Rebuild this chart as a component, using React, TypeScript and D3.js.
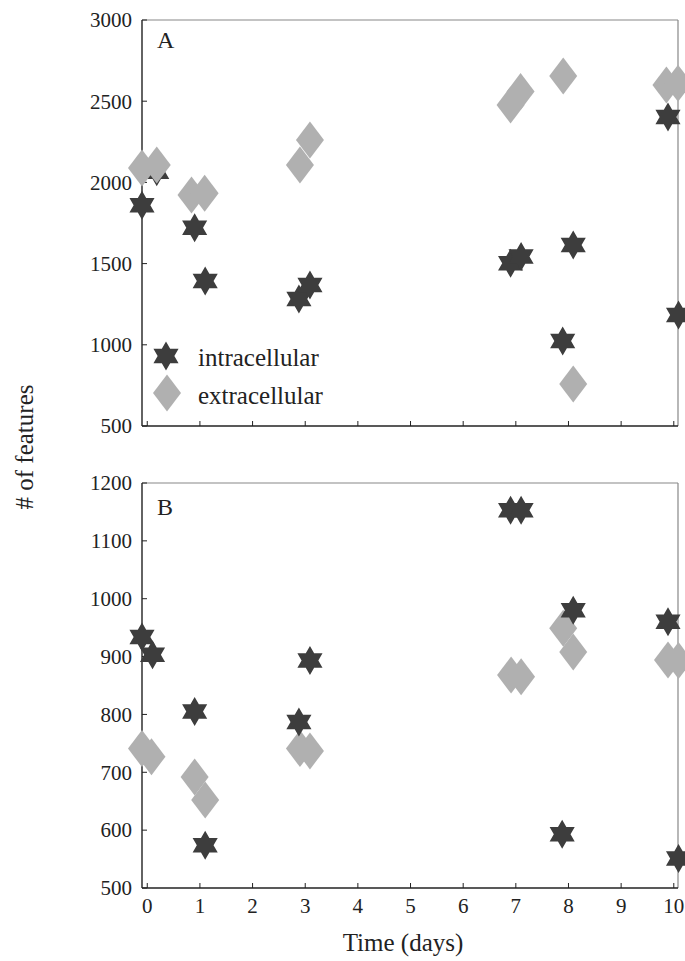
import React, { useRef, useEffect } from 'react';
import * as d3 from 'd3';

// panel A (top)
const intraA_days = [-0.1, 0.18, 0.9, 1.1, 2.88, 3.09, 6.9, 7.1, 7.89, 8.09, 9.89, 10.09];
const intraA_vals = [1860, 2065, 1720, 1393, 1282, 1368, 1502, 1543, 1023, 1615, 2403, 1183];
const extraA_days = [-0.1, 0.18, 0.84, 1.09, 2.9, 3.09, 6.9, 7.09, 7.9, 8.09, 9.86, 10.08];
const extraA_vals = [2089, 2107, 1922, 1933, 2107, 2261, 2477, 2559, 2655, 759, 2600, 2610];

// panel B (bottom)
const intraB_days = [-0.1, 0.1, 0.9, 1.1, 2.88, 3.09, 6.9, 7.1, 7.88, 8.09, 9.89, 10.09];
const intraB_vals = [934, 903, 805, 574, 787, 893, 1153, 1153, 593, 980, 960, 551];
const extraB_days = [-0.1, 0.08, 0.9, 1.1, 2.9, 3.09, 6.91, 7.1, 7.9, 8.09, 9.89, 10.09];
const extraB_vals = [741, 727, 692, 652, 741, 737, 868, 865, 949, 908, 894, 893];

const xTicks = [0, 1, 2, 3, 4, 5, 6, 7, 8, 9, 10];
const yTicksA = [500, 1000, 1500, 2000, 2500, 3000];
const yTicksB = [500, 600, 700, 800, 900, 1000, 1100, 1200];

const STAR = '#3d3d3d';
const DIAMOND = '#b0b0b0';
const FONT = '"Liberation Serif", "Times New Roman", serif';

const hexagram = (r) => {
    const pts = [];
    const ri = r / Math.sqrt(3);
    for (let i = 0; i < 12; i++) {
        const a = -Math.PI / 2 + i * Math.PI / 6;
        const rr = i % 2 === 0 ? r : ri;
        pts.push([rr * Math.cos(a), rr * Math.sin(a)]);
    }
    return 'M' + pts.map(p => p.join(',')).join('L') + 'Z';
};
const diamond = (w, h) => `M0,${-h}L${w},0L0,${h}L${-w},0Z`;

const App = () => {
    const ref = useRef(null);

    useEffect(() => {
        const svg = d3.select(ref.current);
        svg.selectAll('*').remove();

        const x = d3.scaleLinear().domain([-0.1, 10.08]).range([142, 678]);
        const starPath = hexagram(14.5);
        const diaPath = diamond(14, 18.5);

        const panel = (y, yTicks, label, labelY, intra, extra, starsOnTop, showXLabels) => {
            const g = svg.append('g');
            const [y0, y1] = y.range();
            // frame
            g.append('line').attr('x1', x.range()[0]).attr('x2', x.range()[1]).attr('y1', y1).attr('y2', y1)
                .attr('stroke', '#888').attr('stroke-width', 1.2);
            g.append('line').attr('x1', x.range()[1]).attr('x2', x.range()[1]).attr('y1', y1).attr('y2', y0)
                .attr('stroke', '#888').attr('stroke-width', 1.2);
            g.append('line').attr('x1', x.range()[0]).attr('x2', x.range()[0]).attr('y1', y1).attr('y2', y0)
                .attr('stroke', '#222').attr('stroke-width', 1.4);
            g.append('line').attr('x1', x.range()[0]).attr('x2', x.range()[1]).attr('y1', y0).attr('y2', y0)
                .attr('stroke', '#222').attr('stroke-width', 1.4);

            // y ticks
            g.selectAll('.yt').data(yTicks).join('line')
                .attr('x1', x.range()[0]).attr('x2', x.range()[0] + 5)
                .attr('y1', d => y(d)).attr('y2', d => y(d))
                .attr('stroke', '#222');
            g.selectAll('.yl').data(yTicks).join('text')
                .attr('x', 132).attr('y', d => y(d)).attr('dy', '0.35em')
                .attr('text-anchor', 'end').attr('font-family', FONT).attr('font-size', 21)
                .attr('fill', '#222').text(d => d);

            // x ticks
            g.selectAll('.xt').data(xTicks).join('line')
                .attr('x1', d => x(d)).attr('x2', d => x(d))
                .attr('y1', y0).attr('y2', y0 - 5)
                .attr('stroke', '#222');
            if (showXLabels) {
                g.selectAll('.xl').data(xTicks).join('text')
                    .attr('x', d => x(d)).attr('y', y0 + 25)
                    .attr('text-anchor', 'middle').attr('font-family', FONT).attr('font-size', 21)
                    .attr('fill', '#222').text(d => d);
            }

            g.append('text').attr('x', 157).attr('y', labelY)
                .attr('font-family', FONT).attr('font-size', 24).attr('fill', '#222').text(label);

            const drawStars = () => g.append('g').selectAll('path').data(intra).join('path')
                .attr('d', starPath).attr('fill', STAR)
                .attr('transform', d => `translate(${x(d[0])},${y(d[1])})`);
            const drawDiamonds = () => g.append('g').selectAll('path').data(extra).join('path')
                .attr('d', diaPath).attr('fill', DIAMOND)
                .attr('transform', d => `translate(${x(d[0])},${y(d[1])})`);
            if (starsOnTop) { drawDiamonds(); drawStars(); } else { drawStars(); drawDiamonds(); }
            return g;
        };

        const yA = d3.scaleLinear().domain([500, 3000]).range([426, 20]);
        const yB = d3.scaleLinear().domain([500, 1200]).range([888, 483]);

        const gA = panel(yA, yTicksA, 'A', 48,
            d3.zip(intraA_days, intraA_vals), d3.zip(extraA_days, extraA_vals), false, false);
        panel(yB, yTicksB, 'B', 515,
            d3.zip(intraB_days, intraB_vals), d3.zip(extraB_days, extraB_vals), true, true);

        // legend in panel A
        const leg = gA.append('g');
        leg.append('path').attr('d', starPath).attr('fill', STAR).attr('transform', 'translate(166,356)');
        leg.append('text').attr('x', 198).attr('y', 366).attr('font-family', FONT).attr('font-size', 25)
            .attr('fill', '#222').text('intracellular');
        leg.append('path').attr('d', diaPath).attr('fill', DIAMOND).attr('transform', 'translate(167,393)');
        leg.append('text').attr('x', 198).attr('y', 404).attr('font-family', FONT).attr('font-size', 25)
            .attr('fill', '#222').text('extracellular');

        // axis titles
        svg.append('text').attr('x', 403).attr('y', 951).attr('text-anchor', 'middle')
            .attr('font-family', FONT).attr('font-size', 25).attr('fill', '#222').text('Time (days)');
        svg.append('text').attr('transform', 'translate(33,447) rotate(-90)').attr('text-anchor', 'middle')
            .attr('font-family', FONT).attr('font-size', 25).attr('fill', '#222').text('# of features');
    }, []);

    return (
        <svg ref={ref} width={685} height={961}
            style={{ position: 'absolute', left: 0, top: 0, background: '#fff' }}></svg>
    );
};

export default App;
